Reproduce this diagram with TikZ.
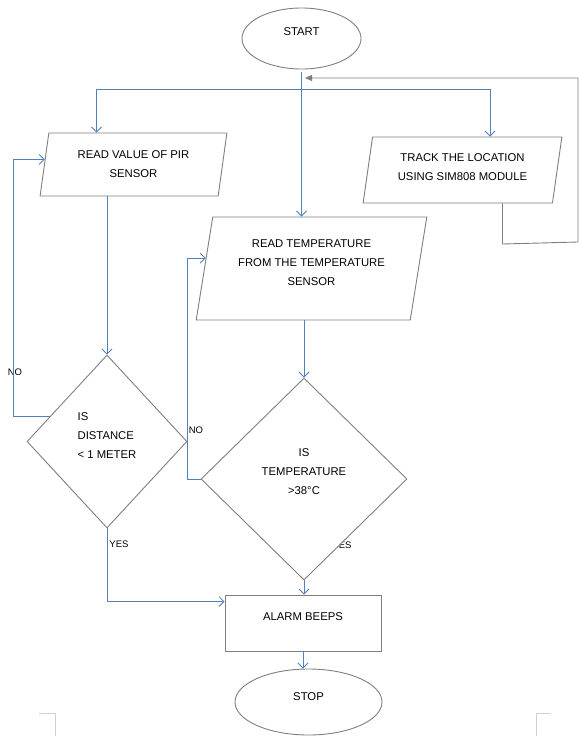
\documentclass[tikz,border=0pt]{standalone}
\usepackage{fontspec}
\setmainfont{Liberation Sans}
\usetikzlibrary{shapes.geometric,arrows.meta,calc}
\definecolor{flowblue}{HTML}{4F81BD}
\definecolor{boxgray}{HTML}{7F7F7F}
\definecolor{markgray}{HTML}{D0D0D0}
\begin{document}
\begin{tikzpicture}[x=1pt,y=-1pt,
  font=\fontsize{11.3}{19}\selectfont,
  term/.style={ellipse,draw=boxgray,line width=0.9pt,fill=white,inner sep=0pt},
  io/.style={trapezium,trapezium left angle=78,trapezium right angle=102,trapezium stretches=true,draw=boxgray,line width=0.9pt,fill=white,align=center,inner sep=0pt},
  proc/.style={rectangle,draw=boxgray,line width=0.9pt,fill=white,inner sep=0pt},
  dec/.style={diamond,draw=boxgray,line width=0.9pt,fill=white,inner sep=0pt},
  flow/.style={flowblue,line width=0.8pt,-{Straight Barb[length=5pt,width=10pt]}},
  back/.style={boxgray,line width=0.9pt,-{Triangle[length=7pt,width=6pt]}},
  lbl/.style={font=\fontsize{9.5}{11}\selectfont},
  cropmark/.style={markgray,line width=0.8pt}]
\useasboundingbox (0,0) rectangle (580,736);
\node[term,minimum width=119pt,minimum height=61pt,text depth=13pt] (start) at (301.5,38.5) {START};
\node[io,minimum width=187pt,minimum height=63pt] (pir) at (133.5,164.5) {READ VALUE OF PIR\\SENSOR};
\node[io,minimum width=199pt,minimum height=66pt,text depth=5pt] (track) at (462.5,170) {TRACK THE LOCATION\\USING SIM808 MODULE};
\node[io,minimum width=231pt,minimum height=103pt,text depth=12pt] (temp) at (311.5,268.5) {READ TEMPERATURE\\FROM THE TEMPERATURE\\SENSOR};
\node[dec,minimum width=160pt,minimum height=173pt,align=left,text depth=12pt] (dist) at (107,441.5) {IS\\DISTANCE\\< 1 METER};
\node[lbl] (yes2) at (342,545) {YES};
\node[dec,minimum width=206pt,minimum height=202pt,align=center,text depth=14pt] (tmpd) at (304,479) {IS\\TEMPERATURE\\>38°C};
\node[proc,minimum width=156pt,minimum height=56pt,text depth=12pt] (alarm) at (303,623) {ALARM BEEPS};
\node[term,minimum width=147pt,minimum height=66pt,text depth=10pt] (stop) at (308.5,702) {STOP};
\node[lbl] (no1) at (15,372) {NO};
\node[lbl] (yes1) at (119,544) {YES};
\node[lbl] (no2) at (196,430) {NO};
\coordinate (fork) at (start.south |- 0,89);
\coordinate (distno) at ($(dist.west)!.29!(dist.north)$);
\coordinate (pirin) at ($(pir.bottom left corner)!.58!(pir.top left corner)$);
\coordinate (tempin) at ($(temp.bottom left corner)!.6!(temp.top left corner)$);
\coordinate (trk1) at (502.5,244);
\coordinate (trk2) at (578,242);
\coordinate (back) at ([xshift=3.5pt]start.south |- 0,78);
\draw[flow] ([yshift=-3pt]start.south) -- (start.south |- temp.north);
\draw[flow] (fork) -| ([xshift=-37pt]pir.north);
\draw[flow] (fork) -| ([xshift=27.5pt]track.north);
\draw[flow] (dist.north |- pir.south) -- (dist.north);
\draw[flow] (distno) -- (distno -| 13,0) |- (pirin);
\draw[flow] (dist.south) |- ([yshift=-7pt]alarm.north west);
\draw[flow] (temp.south -| tmpd.north) -- (tmpd.north);
\draw[flow] (tmpd.west) -- (tmpd.west -| 187,0) |- (tempin);
\draw[flow] (tmpd.south) -- (tmpd.south |- alarm.north);
\draw[flow] (alarm.south) -- (alarm.south |- stop.north);
\draw[back] (track.south -| trk1) -- (trk1) -- (trk2) |- (back);
\draw[cropmark] (39,713) -| (55,736);
\draw[cropmark] (551,713) -| (536,736);
\end{tikzpicture}
\end{document}
